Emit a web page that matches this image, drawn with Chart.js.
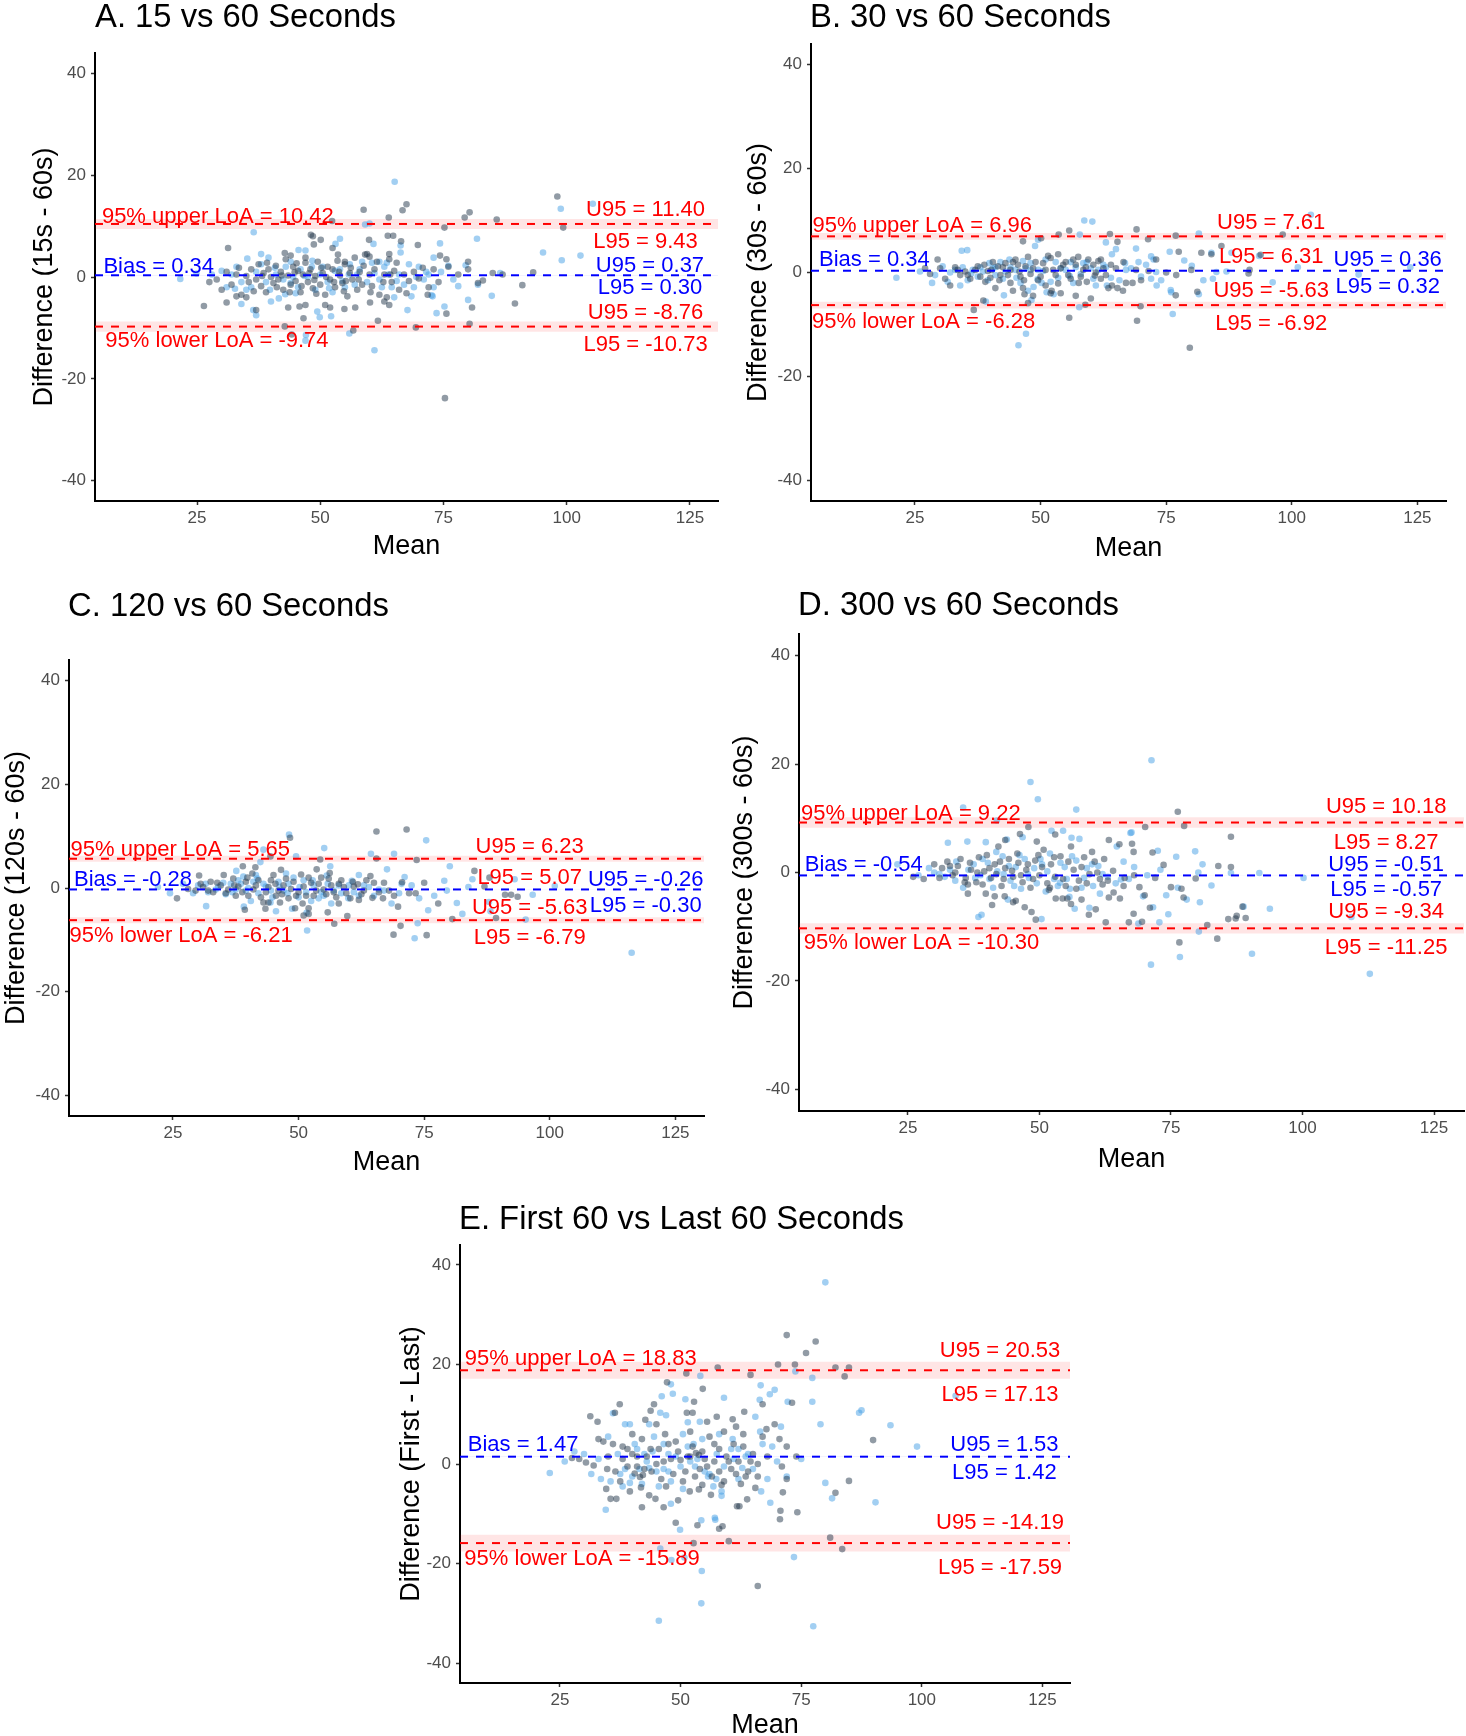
<!DOCTYPE html>
<html><head><meta charset="utf-8">
<script src="https://cdn.jsdelivr.net/npm/chart.js@4.4.1/dist/chart.umd.min.js"></script>
<style>
html,body{margin:0;padding:0;background:#fff;width:1466px;height:1736px;overflow:hidden;position:relative;}
canvas{position:absolute;}
</style></head><body>
<script>
// ---------------- DATA ----------------
const xTicks = [25, 50, 75, 100, 125];
const yTicks = [-40, -20, 0, 20, 40];
const titles = ["A. 15 vs 60 Seconds", "B. 30 vs 60 Seconds", "C. 120 vs 60 Seconds", "D. 300 vs 60 Seconds", "E. First 60 vs Last 60 Seconds"];
const yTitles = ["Difference (15s - 60s)", "Difference (30s - 60s)", "Difference (120s - 60s)", "Difference (300s - 60s)", "Difference (First - Last)"];
const xTitle = "Mean";
// [upper LoA, bias, lower LoA, upper U95, upper L95, bias U95, bias L95, lower U95, lower L95]
const statsA = [10.42, 0.34, -9.74, 11.40, 9.43, 0.37, 0.30, -8.76, -10.73];
const statsB = [6.96, 0.34, -6.28, 7.61, 6.31, 0.36, 0.32, -5.63, -6.92];
const statsC = [5.65, -0.28, -6.21, 6.23, 5.07, -0.26, -0.30, -5.63, -6.79];
const statsD = [9.22, -0.54, -10.30, 10.18, 8.27, -0.51, -0.57, -9.34, -11.25];
const statsE = [18.83, 1.47, -15.89, 20.53, 17.13, 1.53, 1.42, -14.19, -17.59];

const darkA = [[29,-0.5],[30,-2.5],[31,1],[32,-1.5],[33,0.5],[34,-3.5],[35,0.2],[35.5,-1],[36,1.5],[37,-0.5],[37.5,2.5],[38,-1.8],[38.5,0.8],[39,-3],[39.5,1.5],[40,0],[40.5,-1.2],[41,2.2],[41.5,-0.5],[42,1],[42.5,-2.5],[43,3.5],[43.5,0.3],[44,-1.5],[44.5,2],[45,-0.8],[45.5,1.2],[46,-3],[46.5,0.5],[47,2.8],[47.5,-1],[48,1.5],[48.5,-2.2],[49,0.2],[49.5,3],[50,-1.5],[50.5,0.8],[51,-3.5],[51.5,2],[52,-0.5],[52.5,1.5],[53,-2],[53.5,3.2],[54,0.3],[54.5,-1.2],[55,2.5],[55.5,-3.8],[56,0.8],[56.5,-0.5],[57,3.8],[57.5,-2.5],[58,1],[58.5,-1.5],[59.5,4.5],[60,0.5],[60.5,-1.8],[61,1.5],[62,-3.5],[63,0.5],[63.5,-4],[64,3.5],[64.5,-1],[65,1.2],[66,-2.5],[67,0.5],[68,-0.8],[69,1],[70,-0.3],[72,-2],[73,1.5],[74,-1],[76,2],[78,0.5],[80,1.5],[82,-1.2],[85,0.8],[87,0.5],
[98.1,15.8],[99.3,9.7],[67.5,14.3],[66.7,13.1],[58.8,13.2],[63.9,11.7],[80.3,12.7],[79.3,11.7],[85.8,11.3],[75.2,9.7],[52.4,11],[48.1,8.3],[48.5,8],[50.1,7.3],[48.7,6.4],[52.5,5.7],[59.9,7.3],[63.7,8.1],[64.8,8.1],[66.4,7],[69.8,6.3],[31.3,5.7],[42.8,4.7],[44,4.2],[47,3.8],[53.6,4.4],[55,3],[59.1,4.4],[60,4],[64,4.5],[74.3,4.2],[75.6,3.5],[80,3],[93.2,0.9],[91,-1.6],[83,-0.7],[80.8,-6],[80.3,-9.2],[75.6,-7.2],[69.4,-9.9],[64,-5.5],[63,-4.8],[60.1,-5],[61.7,-8.6],[57.1,-6],[54.9,-6.3],[56.7,-10.5],[51,-5.5],[52,-6],[46.6,-8.1],[44.2,-11.3],[42.8,-9.7],[47,-5.5],[45.8,-5.8],[43.5,-6],[37,-6.5],[35,-4],[33,-3.8],[31,-5],[26.4,-5.7],[27.5,-1],[89.5,-5.2],[75.3,-23.8],
[33.5,1.8],[36.5,-2.8],[39.2,2.8],[41.2,-2],[42.2,0.3],[43.8,-3],[45.2,2.7],[46.2,-1.8],[47.8,0.8],[49.2,-3.3],[50.2,1.8],[51.2,0],[52.8,-1],[53.8,1],[55.2,-0.8],[56.2,1.8],[57.8,-0.5],[58.8,2.2],[60.2,-3],[61.5,3],[62.8,-1],[64.2,0.5],[65.5,2.8],[67.5,-3.2],[70.8,1.8],[71.8,-3.5],[38.2,0.2],[44.8,0.9],[48.8,-0.6],[54.8,-2.8]];
const lightA = [[65.1,18.7],[98.8,13.4],[105.3,14.4],[59.1,10.3],[60,10.5],[36.5,8.8],[53.1,6.5],[54,7.5],[60.8,6.5],[66.3,6.2],[74.3,6.6],[81.8,7.5],[95.2,4.8],[102.8,4.2],[99,3.3],[35.2,3.6],[38,4.5],[39.5,3.8],[45.6,5.3],[47,5.2],[48.4,3.2],[62,3],[63.5,2.8],[66.3,4.8],[73,3.8],[76,2.2],[79.5,2.3],[84.8,-3.7],[82,-1.5],[75.2,-5.8],[73.6,-7.1],[73,-2],[72.8,-3.8],[72.6,-3.6],[69.5,0],[68.5,-3.8],[67.7,-6.5],[65,-4],[61,-14.4],[55.9,-11.1],[52.2,-7.7],[49.9,-7.9],[49.4,-6.8],[47.1,-11.4],[45,-3.2],[44,-1.2],[42.9,-3.4],[41.6,-4.2],[40,-4.8],[36.4,-6.5],[34,-5.3],[32.7,-2.3],[21.6,-0.4],[24.9,0.7],[28,0.5],[30,1.2],[32,0.5],[34,-1],[36,-2],[38,2.5],[39,-1],[41,0.5],[43,2],[44.5,0],[46,1.5],[47.5,0],[49,-2.5],[50.5,2],[51.5,-1],[52.5,-3],[54,1.5],[55,-2],[56,2.5],[57.5,0.5],[58.5,3],[59.5,-1],[61,0.8],[62.5,-2],[63,2],[64.5,-2],[66,0.5],[67,-1.5],[70,2],[71.5,1],[78,-1.8],[80,-4.5],[86.5,0.8],[47,-12.5],[37,-7.5],[71,-0.5],
[31,-2],[33,2],[35,-2.5],[37,1],[39.8,-2.5],[40.8,1.8],[42.5,-0.5],[44,3],[45.5,-2],[46.8,0.2],[48.3,2],[50,0.5],[51.8,-2.2],[53,1.2],[54.5,-0.8],[55.8,0.5],[57,-1.5],[58,1.5],[60.5,2.8],[62,-0.5],[63.8,0.5],[65.5,-0.8],[68,2.5],[69,-2],[72,0.5],[74.5,1],[77,-0.5]];

const darkB = [[69.1,8.3],[55.7,8.1],[98.2,7.3],[76.9,7.1],[63.8,7.4],[53.6,7.3],[50.1,6.6],[46.5,6],[65.3,5.9],[71.4,6.4],[77.5,4],[82,3.8],[86,5.1],[93.8,3.4],[36.7,-7.2],[38.6,-5.4],[47.5,-5.9],[55.7,-8.7],[58.9,-6.2],[69.2,-9.3],[69.9,-6.5],[79.7,-14.5],[76.9,-4.4],[81.2,-3.7],[91.4,-0.2],[91.6,0.5],[69,0.5],[66.5,2],[68.3,-2],[66.4,-3.5],[65.3,-3],[64.2,-2.5],[62,-1.2],[60.8,-0.6],[59.2,-1.8],[57.6,-2],[53.5,-2.1],[52.2,-3.5],[52,-4],[51,-2.5],[46.7,-1.5],[46.5,-3],[46.8,-4.2],[46,-0.8],[45.5,1.5],[45,2.5],[44,0.5],[43,1.8],[42,-0.5],[41.5,1.2],[40.5,2],[40,-1],[39.5,0.3],[38.8,1.5],[38,-0.8],[37,0.5],[36,-1.2],[35,0.2],[34,-0.5],[33,1],[32,-2.5],[31,-1.2],[30,0.8],[29.5,2.5],[28,-0.3],[27,0.8],[47.5,3],[48.5,0.8],[49.5,-1.5],[50.5,1.8],[51.5,3.2],[52.5,0.5],[53.5,3.5],[54.5,1.5],[55.5,-0.5],[56.5,2.5],[57.5,3],[58.5,0.5],[59.5,2.5],[60.5,1.5],[61.5,2.2],[62.5,0.8],[63.5,-3],[64,1.5],[67,-2],[71.5,0.3],[73,2.5],[75,0],[77,-0.5],[80,0.5],[84,3.5],[54,-4],[57,-4.5],[60,-5],[44,-2],[41,-3],
[33.5,0.5],[35.5,-0.5],[37.5,1.2],[39,-1.8],[40.2,0.5],[41.8,-1.5],[42.5,1],[43.5,-0.5],[44.5,2],[45.8,0.2],[47,1.2],[48,-0.3],[49,2],[50,-0.8],[51,0.5],[52,2.8],[53,-0.5],[54,0.8],[55,2],[56,-1.2],[57,1.5],[58,-0.8],[59,1],[61,0],[62,2.5],[63,-0.5],[65,0.8],[70,-1.5],[44.5,-3.5],[48.5,-4.5]];
const lightB = [[103.8,11.1],[58.7,10],[60.3,9.8],[81.5,7.5],[57.8,7.3],[49.5,6.3],[48.9,5.1],[63,5.8],[69,4.6],[75.7,4],[84,3.8],[93.5,3.2],[88,3.8],[34.3,4.2],[35.4,4.3],[28.4,-2],[21.3,-1],[39.1,-5.6],[42.7,-4.4],[45.6,-14],[47.1,-11.8],[48.2,-5.3],[57.7,-6.7],[76.3,-8],[75.9,-3.4],[81.5,-4.2],[82.4,-1.5],[84.3,-1.2],[96.2,-1.9],[101.2,1],[113.3,-0.4],[123.6,1],[87,0.2],[85,0.1],[80.1,1.3],[78.6,2.3],[73,0.1],[73.1,-2.5],[72,3.1],[72.5,2.5],[65.7,-1.5],[63.2,-2.5],[60.5,-1.2],[59.2,2],[58,-0.3],[55.8,-0.7],[52.6,-4.2],[51.2,-3.8],[49.4,-1.3],[48.6,-2.8],[47.5,-3.5],[46.5,2.2],[45.2,-1],[44,1],[43,0.2],[42,2],[41,-0.5],[40.5,0.8],[39.8,1.8],[38,1],[37.5,-0.8],[36.5,0.5],[35.5,-1.5],[34,-2.5],[33,0.5],[31.5,-1.8],[30.5,1.2],[29,-0.5],[26,0.2],[54,0.8],[56,2],[57,1],[61.5,0.5],[62.5,1.5],[64.2,3.5],[65,4.5],[66.8,1.8],[68,0.8],[70,-0.8],[71,1.5],[74,-1.5],[76,-3.8],[53,2],[50.5,0.3],[48,0.5],[52,-1.8],
[32,0],[34.5,1],[36.2,-0.2],[38.5,0.2],[39.5,-1.5],[41,1],[42.5,-1.2],[43.8,2.5],[45,0.5],[46,-2],[47,0.8],[48,1.8],[49.5,0.5],[50.2,-2],[51,2.5],[53.5,-1],[55,0.5],[56.5,-2],[58.5,1.8],[60,0.8],[61,-2.5],[63,1],[64,-1],[67,0.5],[69.5,2],[72,-1.2]];

const darkC = [[65.5,10.9],[71.5,11.3],[48.3,9.7],[65.5,5.7],[54.3,5.5],[44.4,6.1],[73.5,5.4],[85,3.3],[88,2],[87,0.3],[91.1,-1.3],[92.3,-1.3],[93.6,-1.7],[89.3,-5.8],[80.6,-6],[77.8,-3],[75.5,-9.1],[70.3,-7.3],[68.9,-9],[69.8,-3.6],[64.7,-1.9],[66.8,-2],[59.7,-5.4],[57.1,-6.9],[55.8,-4.7],[51,-5.3],[52,-3.9],[49.3,-3.9],[46.3,-2.8],[43.4,-4],[39.3,-4.2],[25.8,-2],[30.2,2.4],[32.5,1.2],[35.1,2.5],[38.9,4.2],[41.4,4],[43,-2.8],[45.4,0.8],[46.7,-1.2],[50.5,2.6],[53.6,3.6],[56.2,2.9],[58.5,1.5],[60.3,-2],[61.8,0.7],[64.3,2.3],[67,1],[68,-0.5],[70.6,1.1],[72,-1],[73.3,-1],[75,1],[28,-0.2],[29.5,-0.5],[31,0.2],[33,-0.8],[34.5,0.5],[36,-0.3],[37,1.8],[38,0.3],[39.5,1.2],[40,-1.5],[41,-0.3],[42,1.5],[43.5,-0.8],[44.5,1.5],[45.5,-1.5],[47,0.5],[48,-2],[49,1.2],[50,-0.8],[51.5,-1.5],[52.5,1],[53.5,-0.5],[54.5,2],[55.5,-1.2],[56.5,0.5],[57.5,-1.8],[59,0.2],[60.8,1.2],[62.5,-1.2],[63.5,1.5],[66,-0.8],[37.5,-1.5],[40.8,2.8],[46.5,3.5],[52,-5],[58,-3],[62,-2.3],
[30.5,0.8],[32,-0.5],[33.8,1],[35.5,-1],[37.2,0.5],[38.8,-0.8],[39.8,2],[41.5,0.5],[42.5,-1.8],[44,0.2],[45,2.5],[46,-0.5],[47.5,1.8],[48.5,-0.2],[49.5,-1.5],[51,0.3],[52,2],[53,-1.5],[54,0.8],[55,-0.3],[56,1.8],[57,-0.8],[58,0.8],[59.5,-1],[61,0.3],[63,-0.5],[65,1],[69,-1.5],[44,-2.8],[50.8,-3]];
const lightC = [[75.4,9.2],[48.1,10.3],[55.1,7.7],[64.4,6.6],[69,6.6],[49.5,6.1],[43,7.4],[56.3,4.2],[80.1,4.2],[84.6,1.7],[93,1.7],[83.8,0.2],[96.6,-1.3],[101,0.4],[87.9,-2.7],[88.2,-4.5],[82.6,-5],[81.5,-2.9],[95.2,-6.1],[116.3,-12.5],[79,1.4],[75.8,-4.3],[73.7,-6.8],[73.1,-9.7],[59.9,-2],[51.7,-8.2],[51.6,-4.8],[48.7,-4],[45.5,-4.5],[44.4,-2.8],[31.6,-3.5],[24.4,-1],[22,0.2],[39.1,-3.6],[37.6,3.3],[42.4,5],[55.6,2.4],[60.6,1.4],[67.6,3.6],[71.1,2.1],[72.5,0.5],[70,-1],[65,-1.5],[63,0.5],[61,-0.8],[58,0.5],[57,-0.5],[55,-1.5],[53,0.5],[51,1.5],[50,-1.8],[48,0.8],[47,-0.5],[46,1.2],[44.5,-0.5],[43,0.8],[42,-1],[41,1.2],[40,0],[39,2.2],[38.5,0.8],[37.5,-0.3],[36.5,0.8],[35.5,-1.2],[34,0.2],[32,-0.8],[30,0.5],[27,0.8],[52.5,-2.5],[54,-2],[56.5,-3],[62,2.5],[66,-0.3],[68.5,-3],[74,-2],[77,-1.5],[79.5,-0.5],[41.5,2.5],[47.5,2.8],
[29,-1],[31.5,0.8],[33.5,-0.3],[35,1],[36.8,-0.8],[38,1.5],[39.5,-0.5],[40.5,-2.5],[41.8,1.8],[43.5,0.3],[44.8,-1.8],[46.2,0.2],[47.8,-1],[49,2],[50.2,0.2],[51.5,-0.8],[52.8,1.5],[54.5,-0.8],[55.8,0.8],[58.5,-1],[60,0.5],[62,-1.5],[64,0.2],[67,-0.5],[70.5,0.8]];

const darkD = [[76.3,11.2],[70.1,8.4],[77.5,8.6],[47.9,8.4],[86.4,6.6],[53,7],[46.3,7.1],[49.5,5.7],[43.5,6],[63.2,6],[65.2,5.2],[67.6,5.3],[67.9,3.8],[71.5,3.7],[73.6,1.4],[84,1.2],[79.7,-1.1],[77,-3],[77.4,-4.6],[75,-2.7],[69,-2.7],[70,-4.2],[71,-6.5],[69.5,-9.1],[67.9,-7.6],[67,-9.2],[66.2,-1],[65.3,-4.8],[62.6,-9.2],[63.2,-4.6],[64.1,-3.7],[62,-2.2],[60.7,-6.8],[59.4,-7.8],[55.3,-4.8],[54.4,-4.8],[53.1,-4.8],[49.3,-8.7],[48.5,-7.3],[47.2,-6.4],[45,-5.5],[45.5,-5.2],[43.4,-4.4],[41.5,-4.4],[39.8,-3.9],[36.4,-3.9],[36.4,-2.2],[85.9,-8.6],[87.3,-8.5],[88.6,-6.3],[89.2,-8.4],[87.5,-8],[81.9,-9.7],[83.8,-12.2],[76.6,-12.9],[86.4,1],[72,-1],[30,1.5],[31.5,0.8],[32.5,2],[33.5,-0.5],[34.5,1.2],[35,2.5],[36,-1],[37,0.5],[38,-1.8],[38.5,2.8],[39.5,0.2],[40,3.2],[40.8,-1],[41.5,1.5],[42.2,4.8],[42.8,-2.5],[43.5,0.8],[44.2,2.5],[45,-0.8],[46,1.8],[46.8,-1.8],[47.5,0.5],[48.3,-2.8],[49.2,2.2],[50,-0.5],[50.8,4.2],[51.5,-2],[52.2,1.5],[53,-0.8],[54,3],[55,-2.5],[56,4.8],[56.5,0.5],[57.5,-1.5],[58.5,2.8],[59.5,-0.3],[60.5,2],[61.5,-1.2],[62.3,2.5],[64,0.3],[28,-1.2],[26,-0.8],[58,-5],[52,-2.8],
[31,-1],[33,1.2],[34,0],[35.8,-1.8],[36.8,1.8],[38.2,0],[39.2,-2.2],[40.5,0.8],[41.8,-0.3],[42.5,2],[43.2,-1.2],[44.8,0.3],[45.8,3.5],[46.5,-0.5],[47.8,1.5],[48.8,-1.2],[49.8,3.2],[50.5,1],[51.8,-3.2],[52.8,2.8],[54.5,-1.2],[55.5,2],[57,-3],[58,1],[59,-2],[60,3.8],[61,0],[63,-1.5],[66,-2.5],[68,-0.5],[41,-6],[56,-5.8]];
const lightD = [[71.3,20.7],[48.3,16.7],[49.7,13.5],[35.5,12],[57,11.6],[41.9,9.6],[67.3,7.3],[52.3,7.7],[54.5,7.7],[56.1,6.4],[46.8,6.5],[43.8,6.1],[39.8,5.6],[32.6,5.5],[36.3,5.7],[57.6,6.2],[64.7,4.8],[67.5,7.4],[72.5,4],[76,2.9],[79.6,3.9],[81,1.5],[86.4,-0.1],[91.8,-0.1],[100.2,-1],[80.2,0],[82.7,-2.4],[80.5,-5.5],[76.3,-2.8],[74.1,-4.2],[74.5,-7.7],[72.8,-9.2],[71.6,-6.4],[68.8,-9.4],[69.7,-4.4],[65.5,-1.3],[61.5,-3.9],[59.5,-6.5],[56.7,-6.7],[55.7,-4.5],[53.9,-1.9],[50.4,-8.6],[44,-5],[38.4,-8.2],[39,-7.8],[88.8,-6.3],[90.4,-15],[93.8,-6.7],[80.3,-10.9],[76.7,-15.6],[71.2,-17],[109.3,-8.2],[112.8,-18.7],[23,1.5],[27,-0.5],[29,0.8],[31,-0.3],[33,0.5],[34,-1.5],[35.5,-2.8],[37.5,1.5],[38.8,-0.5],[40.2,1.8],[41.2,-2.8],[42,0.2],[43,3],[44.5,-1.5],[45.5,1],[46.5,-3],[47.2,2.5],[48,-1],[49,0.8],[50.5,1.5],[51.2,-3.5],[52,3.5],[53.5,-2.5],[54.8,1],[55.8,-3],[57,2.2],[58,-2.8],[59,0.8],[60.2,-2.5],[61.2,1.2],[63,-0.8],[66,2],[70.5,-0.5],[73,0.5],[78,-5],[68,1],
[30,0],[32,-0.8],[34.2,2],[36.5,0.5],[37.8,-1],[39.2,2.5],[40.5,-1.2],[41.8,3.8],[43.2,-0.3],[44.2,1.2],[45.2,-2.5],[46.2,3.2],[47.8,-0.3],[49.5,-2],[50.2,2.5],[51.5,0.2],[52.8,-1.2],[54,1.8],[55.2,-1.2],[56.2,3],[58.5,-1],[60,1.5],[62,-0.3],[64.5,-2],[67,-1.2]];

const darkE = [[72,25.9],[78,24.6],[76,22.3],[70.2,20],[73.7,20],[57.7,19.4],[82.1,19.4],[84.9,19.4],[84,17.6],[64.5,17.9],[51.2,18.2],[47.2,16.4],[54.6,15.1],[52.8,12.5],[73.1,12.3],[67,12],[89.9,4.8],[37.4,12],[36.4,10.3],[31.3,9.6],[32.8,8.5],[42.7,8.9],[43.8,10.7],[44.5,12],[45,8],[51.3,10.3],[52.5,10.3],[55.5,8.5],[57.5,9.5],[60.8,9],[63.2,10.5],[61.5,7.5],[67.8,7],[69.5,8],[70.5,5],[72,3.5],[71,-0.5],[74,1.5],[84.9,-3.4],[82.1,-5.8],[74.2,-9.7],[70.7,-9.4],[70.6,-11.1],[71.2,-5.7],[72,-3],[65.5,-4.8],[63.8,-7.1],[61.7,-8.5],[62.2,-8.5],[59,-3.5],[58.5,-4.2],[58,-13],[58.7,-12.5],[56.3,-6.2],[54.5,-4.2],[53.8,-5.1],[51.9,-5.5],[53.5,-12.3],[49.5,-7.3],[49,-11.8],[52.7,-15.9],[60,-15.5],[66,-24.5],[81,-14.8],[83.5,-17.1],[46.5,-8.7],[44.8,-7],[42,-8.7],[43.5,-6.3],[41.8,-4.7],[41.6,-2.6],[40.5,-1.9],[36.7,-7],[35.5,-7],[34.6,-5],[34.8,-1],[32,-0.3],[30.4,0.3],[29,1],[27.5,1.2],[33,5],[34,4.5],[36,4],[38,1],[39,3],[40,2],[41,-0.5],[42,5],[43,1.5],[44,-1.5],[45.5,3],[46.5,0.5],[47.5,4],[48.5,-2],[49.5,2.5],[50.5,-3.5],[51.5,1.5],[52.5,3.5],[53.2,2.2],[54,-1],[55,1],[56,5.5],[57,0.5],[58,3],[59.5,1.5],[60.5,-1],[61,4],[62,0.5],[63,3.5],[64,-1.5],[65,2],[66,0],[68,1.5],[62.5,-4],[37.5,-3.5],[39.5,-5.5],[47,-4.5],[63.5,-2.5],[42.2,-2.2],[56.5,-2.5],
[35,1.5],[36.5,-1.5],[38,3.5],[39,-0.5],[40,6],[41,1.5],[42.5,-1],[43.8,3],[45,0],[46,-3],[46.8,6],[48,1],[49,4.5],[50,0.8],[51,-1.5],[52,6.5],[53,-2.5],[54.5,2.5],[55.5,-0.5],[57,4],[58,-1.5],[59,6.5],[60,0.5],[61.5,-2],[63,6],[64.5,0.5],[66,-2.5],[67,5.5],[52,1.5],[53.8,1.8]];
const lightE = [[80,36.5],[73.8,18.6],[77.3,17.3],[54.1,17.7],[48,16],[66.6,15.8],[69.5,14.9],[68.5,14],[46.1,13.6],[48.4,14.1],[51,13],[59,13.3],[66.4,12.9],[72.2,12.5],[77.3,12.5],[107,13.7],[87,10.3],[87.5,10.8],[93.5,7.8],[99,3.5],[79,8],[70.8,7.5],[36,10.2],[38.5,8],[39.5,8],[45.8,10.3],[47,9.8],[50.5,6],[51.5,8.4],[54,8.5],[44.5,5.5],[43.5,8],[40.5,4],[35,5.5],[30,2],[28,2.5],[26,0.5],[22.9,-1.8],[31.5,-2],[33.5,-3],[37.5,-2],[38,-4.5],[41.5,-1],[43.5,-0.8],[45,-1.5],[48,-3.5],[50,-0.5],[52,0.5],[53.5,1],[55,-1.5],[55.7,-2.5],[56.8,-4.5],[57.4,-3],[58.5,-5.5],[58.5,-6.4],[60.8,5],[62,3],[62.8,-0.8],[64,2],[66.7,-5.5],[68.6,-7.8],[69,3.5],[70,0.5],[72,-2.5],[75,1],[80,-3.8],[81.4,-6.9],[90.4,-7.7],[57.1,-10.8],[57.2,-11.2],[54.3,-11.3],[49.9,-13.2],[48,-8],[54.4,-21.5],[54.3,-28],[45.5,-31.5],[77.5,-32.6],[73.5,-18.7],[48.1,-19.3],[45.8,-17],[50.8,-18.8],[34.5,-9.2],[39.5,-3.8],[46.5,-1],[42.5,2],[47.5,2],[52.7,4],[58,6],[61,1],[65.5,9.5],[67,4],
[33,1],[35.5,-3.5],[37,2],[38.5,-1],[40,-2.5],[41,3],[42,-4],[43,0.5],[44.2,2.5],[45.5,-4.5],[46.5,4],[47.5,-1.5],[49,1.5],[50.5,-5],[51.5,3.5],[53,-0.5],[54.5,5],[56,-2],[57.5,2],[59,-0.5],[60.5,3],[62,-3],[63.5,1.5],[65,-1],[66.5,6.5],[68,-3]];

// ---------------- LAYOUT ----------------
const FONT = '"Liberation Sans", Arial, Helvetica, sans-serif';
Chart.defaults.font.family = FONT;
const XMIN = 4.3, XMAX = 130.7, YMIN = -44, YMAX = 44;
const panels = [
  {L:95, R:718, T:53, B:501, tx:95, ty:15.5, yt:-53, xt:43, stats:statsA, dark:darkA, light:lightA,
   labY:[12.25,2.29,-12.12,13.45,7.27,2.49,-1.83,-6.8,-12.97], leftX:[5.7,6.0,6.4], redX:116.0, blueX:116.9},
  {L:811, R:1446, T:44, B:501, tx:810, ty:15.5, yt:-54.5, xt:45, stats:statsB, dark:darkB, light:lightB,
   labY:[9.24,2.73,-9.17,9.89,3.38,2.73,-2.34,-3.25,-9.63], leftX:[4.6,5.9,4.5], redX:95.9, blueX:119.1},
  {L:69, R:704, T:660, B:1116, tx:68, ty:604.6, yt:-55, xt:44.5, stats:statsC, dark:darkC, light:lightC,
   labY:[7.64,1.93,-8.88,8.19,2.27,2.0,-3.03,-3.51,-9.36], leftX:[4.6,5.3,4.4], redX:96.0, blueX:119.1},
  {L:799, R:1464, T:634, B:1111, tx:798, ty:603.5, yt:-56.4, xt:46, stats:statsD, dark:darkD, light:lightD,
   labY:[11.19,1.64,-12.7,12.5,5.83,1.7,-2.88,-7.0,-13.55], leftX:[4.7,5.4,5.2], redX:115.9, blueX:115.9},
  {L:460, R:1070, T:1245, B:1683, tx:459, ty:1217, yt:-51, xt:40.5, stats:statsE, dark:darkE, light:lightE,
   labY:[21.46,4.15,-18.71,23.18,14.25,4.15,-1.41,-11.5,-20.43], leftX:[5.3,5.9,5.2], redX:116.2, blueX:117.1}
];

const RED = '#FF0000', BLUE = '#0000FF';
const YW = 100, XH = 65, PADR = 25;

function hline(v, extra) {
  return Object.assign({data:[{x:XMIN,y:v},{x:XMAX,y:v}], showLine:true, pointRadius:0, pointHoverRadius:0, fill:false}, extra);
}
const toPts = arr => arr.map(p => ({x:p[0], y:p[1]}));

panels.forEach((p, i) => {
  const topPad = Math.ceil(p.T - p.ty + 25);
  const x0 = p.L - YW, y0 = p.T - topPad;
  const w = (p.R - x0) + PADR, h = (p.B - y0) + XH;
  const cv = document.createElement('canvas');
  cv.width = w; cv.height = h;
  cv.style.left = x0 + 'px'; cv.style.top = y0 + 'px';
  cv.style.width = w + 'px'; cv.style.height = h + 'px';
  document.body.appendChild(cv);
  const s = p.stats;
  const band = 'rgba(255,0,0,0.1)';
  const datasets = [
    hline(s[3], {borderWidth:0, borderColor:'rgba(0,0,0,0)', fill:'+1', backgroundColor:band, order:5}),
    hline(s[4], {borderWidth:0, borderColor:'rgba(0,0,0,0)', order:5}),
    hline(s[7], {borderWidth:0, borderColor:'rgba(0,0,0,0)', fill:'+1', backgroundColor:band, order:5}),
    hline(s[8], {borderWidth:0, borderColor:'rgba(0,0,0,0)', order:5}),
    hline(s[5], {borderWidth:0, borderColor:'rgba(0,0,0,0)', fill:'+1', backgroundColor:'rgba(0,0,255,0.1)', order:5}),
    hline(s[6], {borderWidth:0, borderColor:'rgba(0,0,0,0)', order:5}),
    {data:toPts(p.light), pointRadius:3.3, pointBackgroundColor:'rgba(70,160,230,0.5)', pointBorderWidth:0, pointHoverRadius:0, order:3},
    {data:toPts(p.dark), pointRadius:3.3, pointBackgroundColor:'rgba(35,55,75,0.5)', pointBorderWidth:0, pointHoverRadius:0, order:2},
    hline(s[0], {borderColor:RED, borderWidth:2, borderDash:[8,8], order:0}),
    hline(s[1], {borderColor:BLUE, borderWidth:2, borderDash:[8,8], order:0}),
    hline(s[2], {borderColor:RED, borderWidth:2, borderDash:[8,8], order:0})
  ];
  const textPlugin = {
    id:'panelText' + i,
    afterDraw(chart) {
      const ctx = chart.ctx, ca = chart.chartArea, xs = chart.scales.x, ys = chart.scales.y;
      ctx.save();
      ctx.fillStyle = '#000';
      ctx.textBaseline = 'alphabetic';
      // panel title
      ctx.font = '32.8px ' + FONT; ctx.textAlign = 'left';
      ctx.fillText(titles[i], p.tx - x0, p.ty - y0 + 0.358 * 32.8);
      // x axis title
      ctx.font = '27px ' + FONT; ctx.textAlign = 'center';
      ctx.fillText(xTitle, (ca.left + ca.right) / 2, ca.bottom + p.xt + 0.358 * 27);
      // y axis title
      ctx.save();
      ctx.translate(ca.left + p.yt, (ca.top + ca.bottom) / 2);
      ctx.rotate(-Math.PI / 2);
      ctx.fillText(yTitles[i], 0, 0.358 * 27);
      ctx.restore();
      // annotations
      ctx.font = '22px ' + FONT;
      const off = 0.358 * 22;
      const put = (txt, xv, yv, align, color) => {
        ctx.fillStyle = color; ctx.textAlign = align;
        ctx.fillText(txt, xs.getPixelForValue(xv), ys.getPixelForValue(yv) + off);
      };
      const f = v => v.toFixed(2);
      put('95% upper LoA = ' + f(s[0]), p.leftX[0], p.labY[0], 'left', RED);
      put('Bias = ' + f(s[1]), p.leftX[1], p.labY[1], 'left', BLUE);
      put('95% lower LoA = ' + f(s[2]), p.leftX[2], p.labY[2], 'left', RED);
      put('U95 = ' + f(s[3]), p.redX, p.labY[3], 'center', RED);
      put('L95 = ' + f(s[4]), p.redX, p.labY[4], 'center', RED);
      put('U95 = ' + f(s[5]), p.blueX, p.labY[5], 'center', BLUE);
      put('L95 = ' + f(s[6]), p.blueX, p.labY[6], 'center', BLUE);
      put('U95 = ' + f(s[7]), p.redX, p.labY[7], 'center', RED);
      put('L95 = ' + f(s[8]), p.redX, p.labY[8], 'center', RED);
      ctx.restore();
    }
  };
  new Chart(cv, {
    type:'scatter',
    data:{datasets},
    options:{
      responsive:false, animation:false, devicePixelRatio:1, events:[],
      layout:{padding:{left:0, top:topPad, right:PADR, bottom:0}},
      plugins:{legend:{display:false}, tooltip:{enabled:false}, title:{display:false}},
      scales:{
        x:{type:'linear', min:XMIN, max:XMAX,
          afterBuildTicks: sc => { sc.ticks = xTicks.map(v => ({value:v})); },
          afterFit: sc => { sc.height = XH; sc.paddingLeft = 0; sc.paddingRight = 0; },
          ticks:{color:'#4D4D4D', font:{size:17}, padding:3, autoSkip:false, maxRotation:0, callback:v => String(v)},
          grid:{display:true, drawOnChartArea:false, drawTicks:true, tickLength:4, tickColor:'#333', tickWidth:1.5},
          border:{display:true, color:'#000', width:2}},
        y:{type:'linear', min:YMIN, max:YMAX,
          afterBuildTicks: sc => { sc.ticks = yTicks.map(v => ({value:v})); },
          afterFit: sc => { sc.width = YW; sc.paddingTop = 0; sc.paddingBottom = 0; },
          ticks:{color:'#4D4D4D', font:{size:17}, padding:5, autoSkip:false, callback:v => String(v)},
          grid:{display:true, drawOnChartArea:false, drawTicks:true, tickLength:4, tickColor:'#333', tickWidth:1.5},
          border:{display:true, color:'#000', width:2}}
      }
    },
    plugins:[textPlugin]
  });
});
</script>
</body></html>
